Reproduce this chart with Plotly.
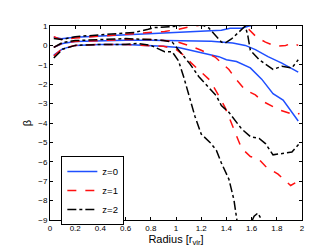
import plotly.graph_objects as go

# ---- data ----
# z=0 (blue, solid)
r_b_hi = [0.03, 0.09, 0.2, 0.46, 0.73, 0.99, 1.26, 1.36, 1.43, 1.52, 1.58, 1.62, 1.75, 1.97]
b_hi   = [0.42, 0.34, 0.42, 0.50, 0.58, 0.66, 0.74, 0.78, 0.88, 0.88, 1.0, 1.05, 1.2, 1.4]
r_b_mid = [0.03, 0.1, 0.2, 0.4, 0.6, 0.8, 1.02, 1.28, 1.45, 1.55, 1.63, 1.73, 1.84, 1.97]
b_mid   = [-0.1, 0.1, 0.2, 0.25, 0.27, 0.27, 0.25, 0.22, 0.12, 0.0, -0.22, -0.58, -0.91, -1.38]
r_b_lo = [0.03, 0.1, 0.2, 0.4, 0.6, 0.8, 0.9, 1.02, 1.18, 1.34, 1.40, 1.48, 1.59, 1.68, 1.77, 1.85, 1.97]
b_lo   = [-0.5, -0.18, 0.0, 0.05, 0.05, 0.0, -0.05, -0.11, -0.33, -0.58, -0.74, -0.83, -1.16, -1.74, -2.49, -2.82, -3.9]

# z=1 (red, dashed)
r_r_hi = [0.03, 0.09, 0.2, 0.46, 0.73, 0.91, 1.02, 1.11, 1.2, 1.35, 1.5, 1.56, 1.64, 1.71, 1.79, 1.87, 1.93, 1.97]
r_hi   = [0.45, 0.3, 0.38, 0.5, 0.62, 0.72, 0.83, 0.97, 1.05, 1.15, 1.1, 0.95, 0.42, 0.17, -0.05, 0.0, 0.12, 0.0]
r_r_mid = [0.03, 0.1, 0.2, 0.4, 0.6, 0.8, 1.0, 1.1, 1.2, 1.31, 1.42, 1.47, 1.55, 1.63, 1.68, 1.81, 1.9, 1.95, 1.98]
r_mid   = [-0.1, 0.12, 0.2, 0.25, 0.3, 0.3, 0.2, 0.0, -0.25, -0.6, -1.24, -1.7, -2.3, -2.55, -2.85, -3.3, -3.5, -3.6, -3.5]
r_r_lo = [0.03, 0.1, 0.2, 0.4, 0.6, 0.8, 0.9, 1.0, 1.06, 1.12, 1.2, 1.27, 1.34, 1.39, 1.43, 1.48, 1.52, 1.59, 1.65, 1.71, 1.81, 1.91, 1.97]
r_lo   = [-0.55, -0.15, 0.0, 0.05, 0.05, 0.0, -0.05, -0.2, -0.5, -0.9, -1.4, -1.8, -2.6, -3.2, -3.85, -4.7, -5.3, -5.73, -5.81, -6.23, -6.64, -7.22, -7.0]

# z=2 (black, dash-dot)
r_k_hi = [0.03, 0.09, 0.2, 0.46, 0.67, 0.78, 0.83, 0.97, 1.1, 1.22, 1.26, 1.36, 1.39, 1.44, 1.52, 1.55, 1.57, 1.59, 1.66, 1.77, 1.84, 1.92, 1.97]
k_hi   = [0.35, 0.3, 0.45, 0.58, 0.67, 0.83, 0.92, 0.97, 1.08, 1.02, 0.9, 0.17, 0.12, 0.33, 0.83, 1.0, 0.5, -0.25, -0.74, -1.24, -1.08, -1.16, -0.74]
r_k_mid = [0.03, 0.1, 0.2, 0.4, 0.6, 0.8, 0.9, 0.97, 1.05, 1.11, 1.18, 1.22, 1.28, 1.32, 1.36, 1.42, 1.52, 1.59, 1.66, 1.71, 1.77, 1.85, 1.92, 1.98]
k_mid   = [-0.1, 0.15, 0.25, 0.3, 0.35, 0.3, 0.25, 0.17, -0.5, -0.95, -1.6, -1.9, -2.3, -2.6, -3.1, -3.45, -4.3, -4.7, -4.8, -5.06, -5.64, -5.56, -5.5, -5.06]
r_k_lo = [0.03, 0.1, 0.2, 0.4, 0.6, 0.7, 0.8, 0.83, 0.91, 0.97, 1.02, 1.06, 1.10, 1.15, 1.20, 1.27, 1.32, 1.36, 1.42, 1.46, 1.49, 1.55, 1.62, 1.65, 1.68, 1.75, 1.97]
k_lo   = [-0.65, -0.2, 0.0, 0.05, 0.05, 0.1, 0.0, -0.08, -0.33, -0.33, -0.8, -1.6, -2.57, -3.65, -4.57, -5.0, -5.4, -6.06, -6.9, -7.97, -9.3, -9.8, -8.8, -8.64, -9.0, -9.8, -10.5]

x_ticks = [0, 0.2, 0.4, 0.6, 0.8, 1, 1.2, 1.4, 1.6, 1.8, 2]
x_tick_labels = ["0", "0.2", "0.4", "0.6", "0.8", "1", "1.2", "1.4", "1.6", "1.8", "2"]
y_ticks = [-9, -8, -7, -6, -5, -4, -3, -2, -1, 0, 1]
y_tick_labels = ["\u22129", "\u22128", "\u22127", "\u22126", "\u22125", "\u22124", "\u22123", "\u22122", "\u22121", "0", "1"]

BLUE = "#1f4fff"
RED = "#ff1010"
BLACK = "#000000"

fig = go.Figure()

groups = [
    ("z=0", BLUE, "solid", [(r_b_hi, b_hi), (r_b_mid, b_mid), (r_b_lo, b_lo)]),
    ("z=1", RED, "dash", [(r_r_hi, r_hi), (r_r_mid, r_mid), (r_r_lo, r_lo)]),
    ("z=2", BLACK, "dashdot", [(r_k_hi, k_hi), (r_k_mid, k_mid), (r_k_lo, k_lo)]),
]
for name, color, dash, series in groups:
    for i, (xs, ys) in enumerate(series):
        fig.add_trace(go.Scatter(
            x=xs, y=ys, mode="lines", name=name,
            legendgroup=name, showlegend=(i == 1),
            line=dict(color=color, width=1.5, dash=dash),
        ))

axis_common = dict(
    showgrid=False, zeroline=False, showline=True, linecolor="black", linewidth=1,
    mirror="allticks", ticks="inside", ticklen=3, tickwidth=0.8, tickcolor="black",
    tickfont=dict(family="Liberation Sans, Arial, sans-serif", size=8, color="black"),
)

fig.update_layout(
    width=327, height=246,
    margin=dict(l=42, r=33, t=18, b=27),
    paper_bgcolor="white", plot_bgcolor="white",
    font=dict(family="Liberation Sans, Arial, sans-serif", color="black"),
    xaxis=dict(range=[0, 2], tickvals=x_ticks, ticktext=x_tick_labels,
               title=dict(text="Radius [r<sub>vir</sub>]", font=dict(size=11), standoff=2),
               **axis_common),
    yaxis=dict(range=[-9, 1], tickvals=y_ticks, ticktext=y_tick_labels,
               title=dict(text="β", font=dict(size=11), standoff=4),
               **axis_common),
    legend=dict(x=0.045, y=0.33, xanchor="left", yanchor="top",
                bgcolor="white", bordercolor="black", borderwidth=1,
                font=dict(size=9.5), itemwidth=30, tracegroupgap=0,
                traceorder="normal"),
    showlegend=True,
)

fig.write_html("out.html")
